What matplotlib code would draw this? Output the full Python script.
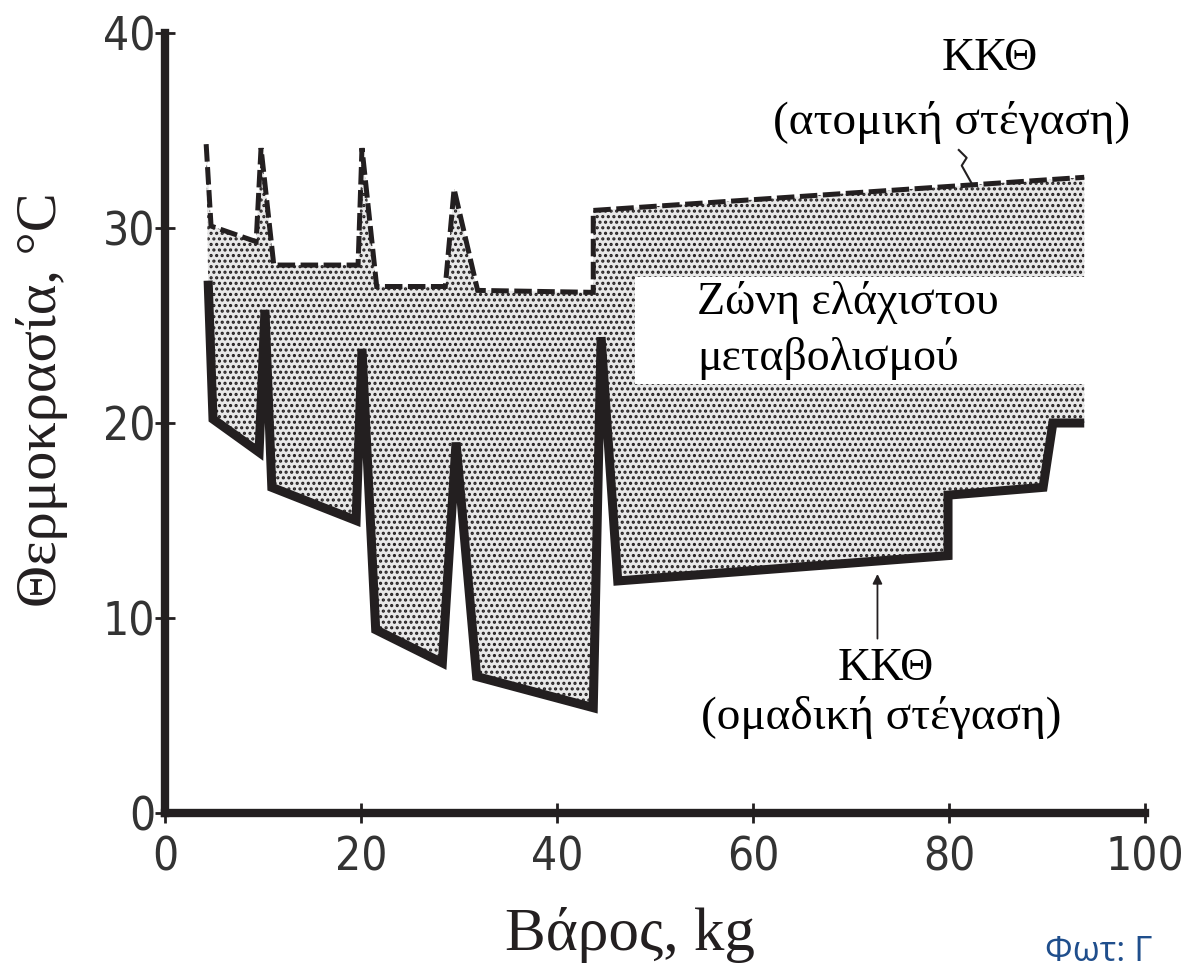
import numpy as np
import matplotlib.pyplot as plt
from matplotlib.patches import Rectangle

plt.rcParams['hatch.linewidth'] = 1.5

# upper limit, individual housing (dashed)
upper_x = [4.2, 4.7, 9.3, 9.8, 11.1, 19.7, 20.1, 21.6, 28.6, 29.5, 31.9, 43.7, 43.7, 93.8]
upper_y = [34.3, 30.1, 29.3, 34.1, 28.1, 28.1, 34.1, 27.0, 27.0, 32.0, 26.8, 26.7, 30.9, 32.6]

# lower limit, group housing (solid)
lower_x = [4.4, 4.9, 9.6, 10.2, 10.9, 19.5, 20.1, 21.5, 28.3, 29.7, 31.8, 43.7, 44.5,
           46.2, 79.9, 79.9, 89.6, 90.6, 93.8]
lower_y = [27.3, 20.2, 18.5, 25.8, 16.7, 15.0, 23.8, 9.4, 7.7, 19.0, 7.0, 5.4, 24.4,
           11.9, 13.2, 16.3, 16.7, 20.0, 20.0]

x_ticks = [0, 20, 40, 60, 80, 100]
y_ticks = [0, 10, 20, 30, 40]

ink = "#231f20"
serif = ["Liberation Serif", "DejaVu Serif"]
tickfont = ["Liberation Sans Narrow", "DejaVu Sans"]

fig = plt.figure(figsize=(11.83, 9.72), dpi=100)
ax = fig.add_axes([165 / 1183, 1 - 813 / 972, 980 / 1183, 780 / 972])
ax.set_xlim(0, 100)
ax.set_ylim(0, 40)

# stippled zone between the two limits
poly_x = np.r_[upper_x, lower_x[::-1]]
poly_y = np.r_[upper_y, lower_y[::-1]]
ax.fill(poly_x, poly_y, facecolor="#e8e8e8", edgecolor=ink, hatch="...",
        linewidth=0, zorder=1)

# white label box over the zone
ax.add_patch(Rectangle((48.0, 22.0), 47.0, 5.5, facecolor="white",
                       edgecolor="none", zorder=2))

ax.plot(upper_x, upper_y, color=ink, lw=3.6, linestyle=(0, (3.5, 1.1)),
        solid_joinstyle="miter", dash_joinstyle="miter", zorder=3)
ax.plot(lower_x, lower_y, color=ink, lw=6.5, solid_joinstyle="miter",
        solid_capstyle="butt", zorder=3)

# labels
ax.text(84.2, 38.7, "ΚΚΘ", ha="center", va="center", fontsize=33, family=serif)
ax.text(80.3, 35.4, "(ατομική στέγαση)", ha="center", va="center", fontsize=34,
        family=serif)
ax.plot([81.0, 81.8, 81.3, 82.3], [34.0, 33.6, 33.2, 32.3], color=ink, lw=1.5)

ax.text(54.3, 26.2, "Ζώνη ελάχιστου", ha="left", va="center", fontsize=33,
        family=serif, zorder=4)
ax.text(54.3, 23.3, "μεταβολισμού", ha="left", va="center", fontsize=33,
        family=serif, zorder=4)

ax.text(73.5, 7.4, "ΚΚΘ", ha="center", va="center", fontsize=33, family=serif)
ax.text(73.1, 4.9, "(ομαδική στέγαση)", ha="center", va="center", fontsize=34,
        family=serif)
ax.annotate("", xy=(72.7, 12.4), xytext=(72.7, 8.8),
            arrowprops=dict(arrowstyle="-|>", lw=1.3, color=ink, mutation_scale=14))

# axes
for side in ["top", "right"]:
    ax.spines[side].set_visible(False)
for side in ["left", "bottom"]:
    ax.spines[side].set_linewidth(6)
    ax.spines[side].set_color(ink)
    ax.spines[side].set_capstyle("projecting")

ax.set_xticks(x_ticks)
ax.set_yticks(y_ticks)
ax.tick_params(direction="inout", length=14, width=2, color=ink,
               labelsize=33, labelcolor="#333333")
ax.tick_params(axis="y", pad=0)
ax.tick_params(axis="x", pad=9)
for lab in ax.get_xticklabels() + ax.get_yticklabels():
    lab.set_family(tickfont)
    lab.set_stretch("condensed")

fig.text(630 / 1183, 1 - 935 / 972, "Βάρος, kg", ha="center", va="center",
         fontsize=44, family=serif, color=ink)
fig.text(42 / 1183, 1 - 400 / 972, "Θερμοκρασία, °C", ha="center", va="center",
         rotation=90, fontsize=42, family=serif, color=ink)

fig.text(1045 / 1183, 3 / 972, "Φωτ: Γ", ha="left", va="bottom", fontsize=25,
         family=["Open Sans", "DejaVu Sans"], color="#1f4e8c")

fig.savefig("out.png", dpi=100)
